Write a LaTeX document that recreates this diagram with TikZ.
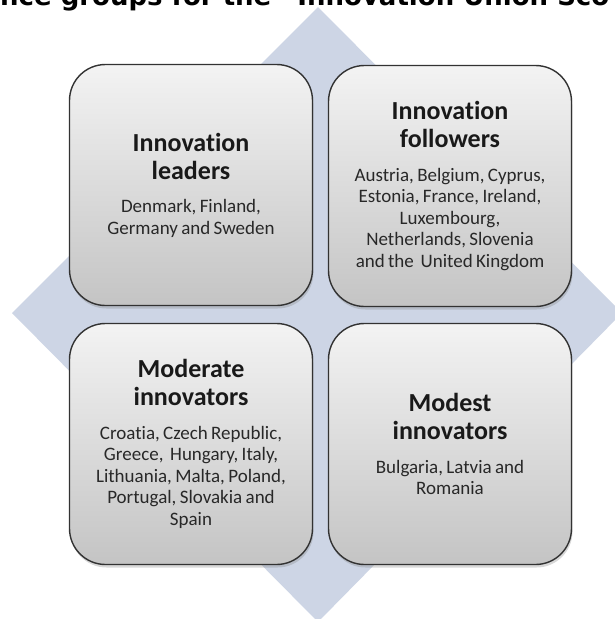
\documentclass[tikz,border=0pt]{standalone}
\usepackage{fontspec}
\setmainfont{Carlito}[Ligatures=NoCommon]
\newfontfamily\headfont{DejaVu Sans}
\usetikzlibrary{shadows}
\definecolor{diamondblue}{RGB}{205,213,229}
\definecolor{boxline}{RGB}{50,50,50}
\definecolor{boxtop}{RGB}{243,243,243}
\definecolor{boxbottom}{RGB}{196,196,196}
\definecolor{bodytext}{RGB}{40,40,40}
\tikzset{
  group/.style={draw=boxline, line width=1.4pt, rounded corners=36pt,
    top color=boxtop, bottom color=boxbottom,
    minimum width=243pt, minimum height=241pt, inner sep=0pt,
    text width=228pt, align=center,
    drop shadow={opacity=0.3, shadow xshift=1pt, shadow yshift=-3pt}},
}
\newcommand{\grouptitle}{\fontsize{26}{28}\selectfont\bfseries\color{black!90}}
\newcommand{\groupbody}{\fontsize{19}{21.5}\selectfont\color{bodytext}}
\begin{document}
\begin{tikzpicture}[x=1pt,y=-1pt]
\useasboundingbox (0,0) rectangle (615,619);
\fill[white] (0,0) rectangle (615,619);
\clip (0,0) rectangle (615,619);

% backdrop
\fill[diamondblue] (318,7) -- (622,313) -- (318,622) -- (12,313) -- cycle;

% cut-off heading
\node[anchor=base west, inner sep=0pt, font=\headfont\bfseries\fontsize{26}{30}\selectfont] (heading) at (0,5)
  {nce groups for the “Innovation Union Sco};

\begin{scope}[every node/.style={group}]
\node (leaders) at (191,185) {{\grouptitle Innovation\\leaders\par}\vspace{12pt}
  {\groupbody Denmark, Finland,\\Germany and Sweden\par}};
\node (followers) at (450,186) {{\grouptitle Innovation\\followers\par}\vspace{12pt}
  {\groupbody Austria, Belgium, Cyprus,\\Estonia, France, Ireland,\\Luxembourg,\\Netherlands, Slovenia\\and the\ \ United Kingdom\par}};
\node (moderate) at (191,444) {{\grouptitle Moderate\\innovators\par}\vspace{12pt}
  {\groupbody Croatia, Czech Republic,\\Greece,\ \ Hungary, Italy,\\Lithuania, Malta, Poland,\\Portugal, Slovakia and\\Spain\par}};
\node (modest) at (450,444) {{\grouptitle Modest\\innovators\par}\vspace{12pt}
  {\groupbody Bulgaria, Latvia and\\Romania\par}};
\end{scope}
\end{tikzpicture}
\end{document}
